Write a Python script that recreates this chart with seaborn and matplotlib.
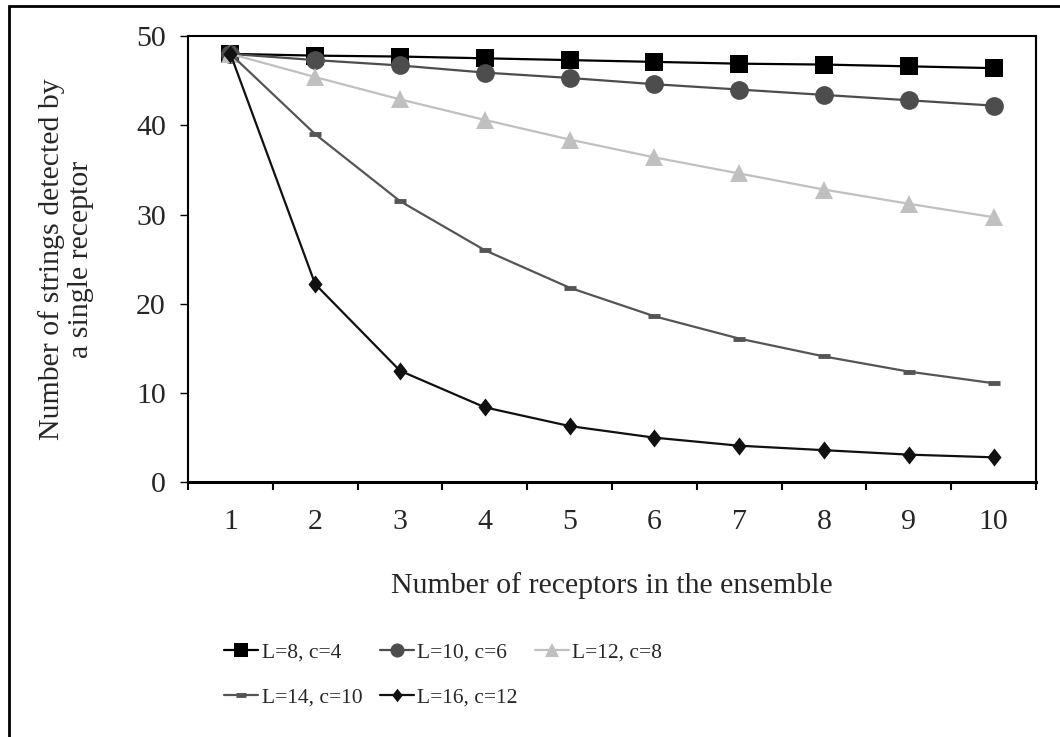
import numpy as np
import pandas as pd
import matplotlib
matplotlib.use("Agg")
import matplotlib.pyplot as plt
from matplotlib.patches import Rectangle
from matplotlib.ticker import FixedLocator, NullFormatter
import seaborn as sns

# Ensemble sizes and the detection counts for each (L, c) setting
receptors = [1, 2, 3, 4, 5, 6, 7, 8, 9, 10]
series_labels = ["L=8, c=4", "L=10, c=6", "L=12, c=8", "L=14, c=10", "L=16, c=12"]
l8_c4 = [48.0, 47.8, 47.7, 47.5, 47.3, 47.1, 46.9, 46.8, 46.6, 46.4]
l10_c6 = [48.0, 47.3, 46.7, 45.9, 45.3, 44.6, 44.0, 43.4, 42.8, 42.2]
l12_c8 = [48.0, 45.4, 42.9, 40.6, 38.4, 36.4, 34.6, 32.8, 31.2, 29.7]
l14_c10 = [48.0, 39.0, 31.5, 26.0, 21.8, 18.6, 16.1, 14.1, 12.4, 11.1]
l16_c12 = [48.0, 22.2, 12.5, 8.4, 6.3, 5.0, 4.1, 3.6, 3.1, 2.8]
y_ticks = [0, 10, 20, 30, 40, 50]

df = pd.DataFrame({
    "receptors": receptors * 5,
    "detected": l8_c4 + l10_c6 + l12_c8 + l14_c10 + l16_c12,
    "series": np.repeat(series_labels, len(receptors)),
})

FS = 21.5
LEG_FS = 15.5
sns.set_theme(style="white")
plt.rcParams["font.family"] = ["Liberation Serif", "DejaVu Serif"]
plt.rcParams["font.size"] = FS

fig = plt.figure(figsize=(10.6, 7.37), dpi=100)
ax = fig.add_axes([188 / 1060, 1 - 482.3 / 737, (1036 - 188) / 1060, (482.3 - 36) / 737])

diamond = [(-0.78, 0), (0, 1), (0.78, 0), (0, -1), (-0.78, 0)]
styles = {
    "L=8, c=4": dict(color="#000000", marker="s", markersize=12.5, mew=0),
    "L=10, c=6": dict(color="#4d4d4d", marker="o", markersize=13.5, mew=0),
    "L=12, c=8": dict(color="#c0c0c0", marker="^", markersize=13, mew=0),
    "L=14, c=10": dict(color="#555555", marker="_", markersize=9, mew=3.5),
    "L=16, c=12": dict(color="#111111", marker=diamond, markersize=13, mew=0),
}

for name in series_labels:
    st = styles[name]
    sub = df[df["series"] == name]
    sns.lineplot(
        data=sub, x="receptors", y="detected", ax=ax, label=name,
        color=st["color"], linewidth=1.6, marker=st["marker"],
        markersize=st["markersize"], markeredgewidth=st["mew"],
        markeredgecolor=st["color"], markerfacecolor=st["color"],
    )

ax.set_xlim(0.5, 10.5)
ax.set_ylim(0, 50)
ax.set_yticks(y_ticks)
ax.set_yticklabels([str(v) for v in y_ticks], fontsize=FS)

# Category axis: tick marks at boundaries, labels at category centres
ax.xaxis.set_major_locator(FixedLocator(np.arange(0.5, 11, 1.0)))
ax.xaxis.set_major_formatter(NullFormatter())
ax.xaxis.set_minor_locator(FixedLocator(receptors))
ax.set_xticklabels([str(r) for r in receptors], minor=True, fontsize=FS)
ax.tick_params(axis="x", which="major", direction="out", length=6, width=1.5,
               color="black", bottom=True)
ax.tick_params(axis="x", which="minor", length=0, pad=19, bottom=True)
ax.tick_params(axis="y", direction="out", length=6, width=1.0, color="black",
               left=True, pad=10)

for side, sp in ax.spines.items():
    sp.set_visible(True)
    sp.set_color("black")
    sp.set_linewidth(1.5)
ax.spines["bottom"].set_linewidth(2.2)

ax.set_xlabel("Number of receptors in the ensemble", fontsize=FS, labelpad=27)
ax.set_ylabel("Number of strings detected by\na single receptor", fontsize=FS,
              labelpad=30, linespacing=1.15)

# Legend laid out row by row: three entries on top, two below
handles, labels = ax.get_legend_handles_labels()
order = [0, 3, 1, 4, 2]
fig.legend(
    [handles[i] for i in order], [labels[i] for i in order],
    ncol=3, loc="center left", bbox_to_anchor=(224 / 1060, 1 - 675 / 737),
    frameon=False, fontsize=LEG_FS, handlelength=1.6, handletextpad=0.15,
    columnspacing=0.8, labelspacing=1.15, borderpad=0, borderaxespad=0,
    markerscale=0.75,
)
if ax.get_legend():
    ax.get_legend().remove()

# Chart frame around the whole figure
fig.patches.append(Rectangle((9 / 1060, -0.05), 1.2, 1 - 6 / 737 + 0.05,
                             transform=fig.transFigure, fill=False,
                             edgecolor="black", linewidth=2.0))

fig.savefig("out.png", dpi=100)
